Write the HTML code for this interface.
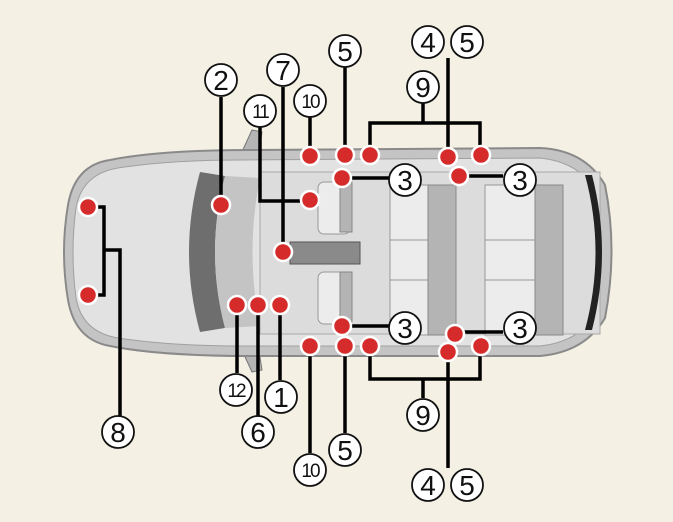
<!DOCTYPE html>
<html><head><meta charset="utf-8"><style>
html,body{margin:0;padding:0;background:#f4f0e3;}
svg{display:block}
text{font-family:"Liberation Sans",sans-serif;font-size:28px;text-anchor:middle;fill:#111}
.s{font-size:19px;letter-spacing:-2px}
</style></head><body>
<svg width="673" height="522" viewBox="0 0 673 522" xmlns="http://www.w3.org/2000/svg">
<rect width="673" height="522" fill="#f4f0e3"/>
<path d="M240,156 L252,130 L262,132 L258,158 Z" fill="#b5b5b5" stroke="#777"/>
<path d="M240,346 L252,372 L262,370 L258,344 Z" fill="#b5b5b5" stroke="#777"/>
<path d="M110,160 Q160,150 250,150 L540,148 Q585,150 605,185 Q618,250 605,318 Q585,352 540,356 L250,356 Q160,356 110,346 Q75,340 68,300 Q60,252 68,205 Q75,165 110,160 Z" fill="#c4c4c4" stroke="#8a8a8a" stroke-width="2"/>
<path d="M118,168 Q170,160 240,160 L540,158 Q578,162 596,190 Q606,252 596,314 Q578,342 540,346 L240,346 Q170,346 118,338 Q82,332 76,298 Q70,252 76,208 Q82,174 118,168 Z" fill="#e2e2e2" stroke="#a0a0a0"/>
<path d="M200,172 Q178,252 200,332 L225,328 Q205,252 225,176 Z" fill="#6e6e6e"/>
<path d="M225,176 Q205,252 225,328 L260,326 Q245,252 260,178 Z" fill="#c4c4c4"/>
<rect x="260" y="172" width="340" height="162" fill="#dcdcdc" stroke="#a8a8a8"/>
<path d="M585,175 Q606,252 585,330 L592,330 Q612,252 592,175 Z" fill="#222"/>
<g fill="#ececec" stroke="#999">
<rect x="318" y="182" width="32" height="52" rx="6"/>
<rect x="318" y="272" width="32" height="52" rx="6"/>
<rect x="390" y="185" width="50" height="55"/>
<rect x="390" y="240" width="50" height="40"/>
<rect x="390" y="280" width="50" height="55"/>
<rect x="485" y="185" width="50" height="55"/>
<rect x="485" y="240" width="50" height="40"/>
<rect x="485" y="280" width="50" height="55"/>
</g>
<g fill="#b4b4b4" stroke="#888">
<rect x="428" y="185" width="28" height="150"/>
<rect x="535" y="185" width="28" height="150"/>
<rect x="340" y="182" width="12" height="50"/>
<rect x="340" y="272" width="12" height="50"/>
</g>
<rect x="290" y="242" width="70" height="22" fill="#8a8a8a" stroke="#555"/>
<g stroke="#000" stroke-width="3.5" fill="none">
<path d="M221,97 V205"/>
<path d="M283,87 V252"/>
<path d="M260,126 V201 H310"/>
<path d="M310,117 V156"/>
<path d="M345,67 V155"/>
<path d="M370,155 V123 H480 V155 M423,103 V123"/>
<path d="M448,58 V157"/>
<path d="M342,178 H389 M458,176 H503 M342,326 H389 M455,332 H503"/>
<path d="M88,207 H104 V295 H88 M104,250 H120 V416"/>
<path d="M237,305 V373 M258,305 V416 M280,305 V380"/>
<path d="M310,346 V453 M345,346 V433"/>
<path d="M370,346 V379 H480 V346 M423,379 V398"/>
<path d="M448,352 V468"/>
</g>
<g fill="#d52b2b" stroke="#fff" stroke-width="2.5">
<circle cx="88" cy="207" r="9"/><circle cx="88" cy="295" r="9"/>
<circle cx="221" cy="205" r="9"/>
<circle cx="310" cy="156" r="9"/><circle cx="345" cy="155" r="9"/><circle cx="370" cy="155" r="9"/>
<circle cx="448" cy="157" r="9"/><circle cx="481" cy="155" r="9"/>
<circle cx="342" cy="178" r="9"/><circle cx="459" cy="176" r="9"/>
<circle cx="310" cy="200" r="9"/><circle cx="283" cy="252" r="9"/>
<circle cx="237" cy="305" r="9"/><circle cx="258" cy="305" r="9"/><circle cx="280" cy="305" r="9"/>
<circle cx="342" cy="326" r="9"/><circle cx="455" cy="334" r="9"/>
<circle cx="310" cy="346" r="9"/><circle cx="345" cy="346" r="9"/><circle cx="370" cy="346" r="9"/>
<circle cx="448" cy="352" r="9"/><circle cx="481" cy="346" r="9"/>
</g>
<g fill="#fff" stroke="#111" stroke-width="1.8">
<circle cx="221" cy="80" r="16"/><circle cx="283" cy="70" r="16"/><circle cx="260" cy="111" r="16"/>
<circle cx="310" cy="101" r="16"/><circle cx="345" cy="51" r="16"/>
<circle cx="428" cy="42" r="16"/><circle cx="467" cy="42" r="16"/><circle cx="423" cy="87" r="16"/>
<circle cx="405" cy="180" r="16"/><circle cx="520" cy="180" r="16"/>
<circle cx="405" cy="328" r="16"/><circle cx="520" cy="328" r="16"/>
<circle cx="118" cy="432" r="16"/><circle cx="236" cy="390" r="16"/><circle cx="258" cy="432" r="16"/>
<circle cx="281" cy="397" r="16"/><circle cx="310" cy="470" r="16"/><circle cx="345" cy="450" r="16"/>
<circle cx="423" cy="415" r="16"/><circle cx="428" cy="485" r="16"/><circle cx="467" cy="485" r="16"/>
</g>
<g>
<text x="221" y="90">2</text><text x="283" y="80">7</text><text class="s" x="260" y="118">11</text>
<text class="s" x="310" y="108">10</text><text x="345" y="61">5</text>
<text x="428" y="52">4</text><text x="467" y="52">5</text><text x="423" y="97">9</text>
<text x="405" y="190">3</text><text x="520" y="190">3</text>
<text x="405" y="338">3</text><text x="520" y="338">3</text>
<text x="118" y="442">8</text><text class="s" x="236" y="397">12</text><text x="258" y="442">6</text>
<text x="281" y="407">1</text><text class="s" x="310" y="477">10</text><text x="345" y="460">5</text>
<text x="423" y="425">9</text><text x="428" y="495">4</text><text x="467" y="495">5</text>
</g>
</svg>
</body></html>
